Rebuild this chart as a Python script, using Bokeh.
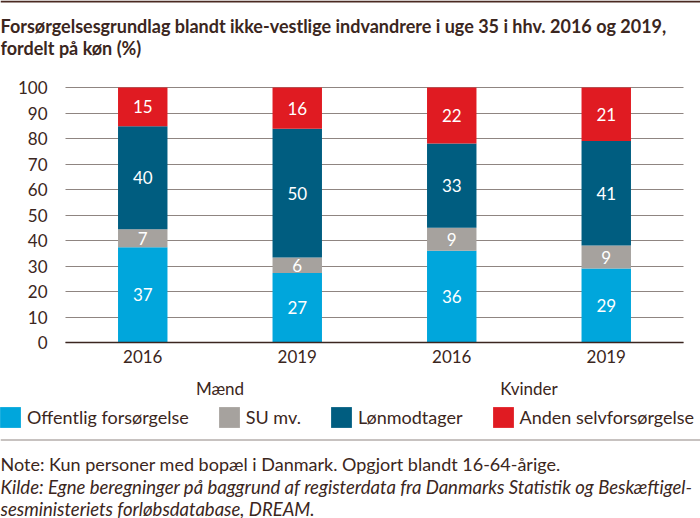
from bokeh.plotting import figure
from bokeh.models import (ColumnDataSource, Range1d, Legend, LegendItem, Label, BoxAnnotation,
                          LinearAxis, FixedTicker, Grid)
from bokeh.core.properties import value
from bokeh.embed import file_html
from bokeh.resources import INLINE

# data (percent)
groups = ["Mænd", "Mænd", "Kvinder", "Kvinder"]
years = ["2016", "2019", "2016", "2019"]
offentlig = [37, 27, 36, 29]
su = [7, 6, 9, 9]
loenmodtager = [40, 50, 33, 41]
anden = [15, 16, 22, 21]
series_names = ["Offentlig forsørgelse", "SU mv.", "Lønmodtager", "Anden selvforsørgelse"]
colors = ["#00a6dc", "#a6a29e", "#005d80", "#e01b22"]
y_ticks = list(range(0, 101, 10))

title_lines = [
    "Forsørgelsesgrundlag blandt ikke-vestlige indvandrere i uge 35 i hhv. 2016 og 2019,",
    "fordelt på køn (%)",
]
note_text = "Note: Kun personer med bopæl i Danmark. Opgjort blandt 16-64-årige."
source_lines = [
    "Kilde: Egne beregninger på baggrund af registerdata fra Danmarks Statistik og Beskæftigel-",
    "sesministeriets forløbsdatabase, DREAM.",
]

FONT = "Lato"
TEXT = "#3b2620"
RULE = "#8f8581"

W, H = 700, 518
# plot area inside the canvas (pixels)
PL, PR, PT, PB = 65, 683, 87, 342

n = len(years)
xs = [i + 0.5 for i in range(n)]
px_per_x = (PR - PL) / n
px_per_y = (PB - PT) / 100

series = [offentlig, su, loenmodtager, anden]
keys = ["offentlig", "su", "loen", "anden"]

# 100 % stacked: scale each bar to its total
totals = [sum(v) for v in zip(*series)]
data = {"x": xs}
for k, s in zip(keys, series):
    data[k] = [v / t * 100 for v, t in zip(s, totals)]
source = ColumnDataSource(data)

p = figure(
    x_range=Range1d(-PL / px_per_x, n + (W - PR) / px_per_x),
    y_range=Range1d(-(H - PB) / px_per_y, 100 + PT / px_per_y),
    width=W, height=H, title_location=None,
    x_axis_type=None, y_axis_type=None,
    min_border=0, output_backend="svg", toolbar_location=None,
)
p.outline_line_color = None

# horizontal grid over the plot area only
grid = Grid(dimension=1, ticker=FixedTicker(ticks=y_ticks), grid_line_color=RULE, grid_line_width=1)
try:
    grid.cross_bounds = (0, n)
    p.add_layout(grid)
except AttributeError:
    p.segment(x0=0, x1=n, y0=y_ticks, y1=y_ticks, line_color=RULE, line_width=1)

bars = p.vbar_stack(keys, x="x", width=0.32, source=source, color=colors, line_width=0)

# segment labels
lab_x, lab_y, lab_t = [], [], []
for i, x in enumerate(xs):
    bottom = 0
    for k, s in zip(keys, series):
        h = data[k][i]
        lab_x.append(x)
        lab_y.append(bottom + h / 2)
        lab_t.append(str(s[i]))
        bottom += h
p.text(x=lab_x, y=lab_y, text=lab_t, text_color="white", text_align="center",
       text_baseline="middle", text_font=value(FONT), text_font_size="17px")

# y axis
yaxis = LinearAxis(ticker=FixedTicker(ticks=y_ticks), fixed_location=0, bounds=(0, 100),
                   axis_line_color=None, major_tick_line_color=None, minor_tick_line_color=None,
                   major_label_standoff=12, major_label_text_font=FONT,
                   major_label_text_font_size="17px", major_label_text_color=TEXT)
p.add_layout(yaxis, "left")

# x axis: years, then groups
xaxis = LinearAxis(ticker=FixedTicker(ticks=xs), fixed_location=0, bounds=(0, n),
                   major_label_overrides={x: y for x, y in zip(xs, years)},
                   axis_line_color=TEXT, axis_line_width=1.5,
                   major_tick_line_color=None, minor_tick_line_color=None,
                   major_tick_out=0, major_tick_in=0, major_label_standoff=7,
                   major_label_text_font=FONT, major_label_text_font_size="17px",
                   major_label_text_color=TEXT)
p.add_layout(xaxis, "below")

group_names = list(dict.fromkeys(groups))
group_x = [sum(x for x, g in zip(xs, groups) if g == name) / groups.count(name) for name in group_names]
gaxis = LinearAxis(ticker=FixedTicker(ticks=group_x), fixed_location=0,
                   major_label_overrides={x: g for x, g in zip(group_x, group_names)},
                   axis_line_color=None, major_tick_line_color=None, minor_tick_line_color=None,
                   major_tick_out=0, major_tick_in=0, major_label_standoff=35,
                   major_label_text_font=FONT, major_label_text_font_size="17px",
                   major_label_text_color=TEXT)
p.add_layout(gaxis, "below")

# legend
legend = Legend(
    items=[LegendItem(label=nm, renderers=[r]) for nm, r in zip(series_names, bars)],
    orientation="horizontal", location=(-3, H - 430),
    glyph_width=26, glyph_height=26, label_height=26, label_standoff=4,
    spacing=27, padding=0, margin=0,
    border_line_color=None, background_fill_alpha=0,
    label_text_font=FONT, label_text_font_size="18px", label_text_color=TEXT,
)
p.add_layout(legend)

# rules (screen units: x from left, y up from bottom)
for top, bottom, color in [(H, H - 2, "#4a2a22"), (H - 439, H - 440, RULE)]:
    p.add_layout(BoxAnnotation(left=0, right=W, top=top, bottom=bottom,
                               left_units="screen", right_units="screen",
                               top_units="screen", bottom_units="screen",
                               fill_color=color, fill_alpha=1, line_color=None, level="overlay"))

# title, note and source
for i, line in enumerate(title_lines):
    p.add_layout(Label(x=0, y=H - 25 - i * 22, x_units="screen", y_units="screen",
                       text=line, text_font=FONT, text_font_size="18px",
                       text_font_style="bold", text_color=TEXT, text_baseline="alphabetic"))
p.add_layout(Label(x=0, y=H - 463, x_units="screen", y_units="screen",
                   text=note_text, text_font=FONT, text_font_size="18px",
                   text_color=TEXT, text_baseline="alphabetic"))
for i, line in enumerate(source_lines):
    p.add_layout(Label(x=0, y=H - 486 - i * 22, x_units="screen", y_units="screen",
                       text=line, text_font=FONT, text_font_size="18.5px",
                       text_font_style="italic", text_color=TEXT, text_baseline="alphabetic"))

open("out.html", "w").write(file_html(p, INLINE))
